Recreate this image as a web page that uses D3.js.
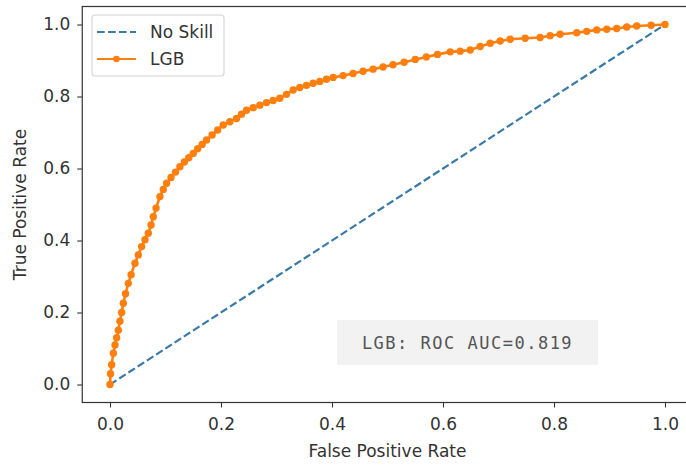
<!DOCTYPE html>
<html>
<head>
<meta charset="utf-8">
<script src="https://cdn.jsdelivr.net/npm/d3@7"></script>
<style>
  body { margin: 0; background: #fff; }
  text { font-family: "DejaVu Sans", sans-serif; fill: #333; }
</style>
</head>
<body>
<div id="roc"></div>
<script>
// values
var fpr = [0.000, 0.001, 0.003, 0.006, 0.009, 0.012, 0.015, 0.018, 0.021, 0.024,
  0.028, 0.033, 0.038, 0.045, 0.051, 0.057, 0.063, 0.069, 0.074, 0.078,
  0.083, 0.090, 0.096, 0.102, 0.110, 0.118, 0.126, 0.134, 0.142, 0.150,
  0.158, 0.166, 0.174, 0.184, 0.194, 0.204, 0.216, 0.228, 0.237, 0.246,
  0.258, 0.270, 0.282, 0.294, 0.306, 0.318, 0.330, 0.342, 0.354, 0.366,
  0.378, 0.390, 0.402, 0.420, 0.438, 0.456, 0.474, 0.492, 0.510, 0.530,
  0.550, 0.570, 0.590, 0.613, 0.631, 0.649, 0.667, 0.685, 0.703, 0.721,
  0.748, 0.775, 0.793, 0.811, 0.841, 0.859, 0.877, 0.895, 0.913, 0.931,
  0.949, 0.975, 1.000];
var tpr = [0.000, 0.030, 0.055, 0.087, 0.110, 0.130, 0.151, 0.176, 0.200, 0.226,
  0.252, 0.281, 0.305, 0.337, 0.360, 0.383, 0.402, 0.420, 0.443, 0.466,
  0.490, 0.522, 0.542, 0.559, 0.575, 0.590, 0.605, 0.618, 0.630, 0.642,
  0.655, 0.667, 0.679, 0.693, 0.707, 0.721, 0.730, 0.739, 0.751, 0.762,
  0.769, 0.776, 0.783, 0.789, 0.795, 0.806, 0.818, 0.825, 0.831, 0.837,
  0.842, 0.848, 0.853, 0.858, 0.864, 0.870, 0.876, 0.882, 0.888, 0.895,
  0.903, 0.910, 0.917, 0.924, 0.926, 0.929, 0.939, 0.948, 0.954, 0.959,
  0.962, 0.964, 0.969, 0.973, 0.977, 0.981, 0.985, 0.987, 0.989, 0.993,
  0.996, 0.998, 1.000];
var ns_fpr = [0, 1];
var ns_tpr = [0, 1];
var tick_values = [0, 0.2, 0.4, 0.6, 0.8, 1.0];
var series_names = ["No Skill", "LGB"];
var auc_label = "LGB: ROC AUC=0.819";

var margin = {top: 6.5, right: -6.75, bottom: 63.5, left: 82.25};
var width = 686 - margin.left - margin.right,
    height = 466 - margin.top - margin.bottom;

var x = d3.scaleLinear().domain([-0.05, 1.05]).range([0, width]),
    y = d3.scaleLinear().domain([-0.05, 1.05]).range([height, 0]);

var svg = d3.select("#roc").append("svg")
    .attr("width", 686)
    .attr("height", 466)
    .append("g")
    .attr("transform", "translate(" + margin.left + "," + margin.top + ")");

var xaxis = d3.axisBottom(x).tickValues(tick_values).tickFormat(d3.format(".1f"))
    .tickSize(5).tickPadding(10);
var yaxis = d3.axisLeft(y).tickValues(tick_values).tickFormat(d3.format(".1f"))
    .tickSize(5).tickPadding(7);

var gx = svg.append("g")
    .attr("class", "xaxis")
    .attr("transform", "translate(0," + height + ")")
    .call(xaxis);
var gy = svg.append("g")
    .attr("class", "yaxis")
    .call(yaxis);
[gx, gy].forEach(function(g) {
  g.select(".domain").remove();
  g.selectAll(".tick line").attr("stroke", "#333").attr("stroke-width", 1.1);
  g.selectAll(".tick text").style("font-size", "17px").attr("fill", "#333");
});

// spines
svg.append("rect")
    .attr("width", width).attr("height", height)
    .attr("fill", "none").attr("stroke", "#333").attr("stroke-width", 1.2);

svg.append("text")
    .attr("x", width / 2).attr("y", 450.5)
    .style("text-anchor", "middle").style("font-size", "17px")
    .text("False Positive Rate");
svg.append("text")
    .attr("transform", "rotate(-90)")
    .attr("x", -height / 2).attr("y", -margin.left + 26)
    .style("text-anchor", "middle").style("font-size", "17px")
    .text("True Positive Rate");

var line = d3.line()
    .x(function(d) { return x(d[0]); })
    .y(function(d) { return y(d[1]); });

var ns = d3.zip(ns_fpr, ns_tpr),
    lgb = d3.zip(fpr, tpr);

svg.append("path")
    .datum(ns)
    .attr("d", line)
    .attr("fill", "none").attr("stroke", "#3a7aa8")
    .attr("stroke-width", 2.2).attr("stroke-dasharray", "7.7,3.3");

svg.append("path")
    .datum(lgb)
    .attr("d", line)
    .attr("fill", "none").attr("stroke", "#ff7f0e").attr("stroke-width", 2.6);

svg.selectAll(".dot")
    .data(lgb)
    .enter().append("circle")
    .attr("class", "dot")
    .attr("cx", function(d) { return x(d[0]); })
    .attr("cy", function(d) { return y(d[1]); })
    .attr("r", 3.7)
    .attr("fill", "#ff7f0e");

// legend
var legend = svg.append("g").attr("transform", "translate(" + (92 - margin.left) + "," + (15 - margin.top) + ")");
legend.append("rect")
    .attr("width", 132).attr("height", 61).attr("rx", 3)
    .attr("fill", "#fff").attr("fill-opacity", 0.8)
    .attr("stroke", "#d4d4d4").attr("stroke-width", 1.1);
legend.append("line")
    .attr("x1", 5).attr("x2", 44).attr("y1", 17).attr("y2", 17)
    .attr("stroke", "#3a7aa8").attr("stroke-width", 2.2).attr("stroke-dasharray", "7.7,3.3");
legend.append("line")
    .attr("x1", 5).attr("x2", 44).attr("y1", 44).attr("y2", 44)
    .attr("stroke", "#ff7f0e").attr("stroke-width", 2.2);
legend.append("circle")
    .attr("cx", 24.5).attr("cy", 44).attr("r", 3.3).attr("fill", "#ff7f0e");
legend.selectAll(".ltext")
    .data(series_names)
    .enter().append("text")
    .attr("class", "ltext")
    .attr("x", 58)
    .attr("y", function(d, i) { return 17 + i * 27; })
    .attr("dy", "0.36em")
    .style("font-size", "17px")
    .text(function(d) { return d; });

// annotation box
var ann = svg.append("g").attr("transform", "translate(" + (337 - margin.left) + "," + (320 - margin.top) + ")");
ann.append("rect")
    .attr("width", 261).attr("height", 45)
    .attr("fill", "#f2f2f2");
ann.append("text")
    .attr("x", 130.5).attr("y", 23).attr("dy", "0.36em")
    .style("text-anchor", "middle")
    .style("font-family", "'DejaVu Sans Mono', monospace")
    .style("font-size", "17px")
    .style("letter-spacing", "1.5px")
    .style("fill", "#555")
    .text(auc_label);
</script>
</body>
</html>
